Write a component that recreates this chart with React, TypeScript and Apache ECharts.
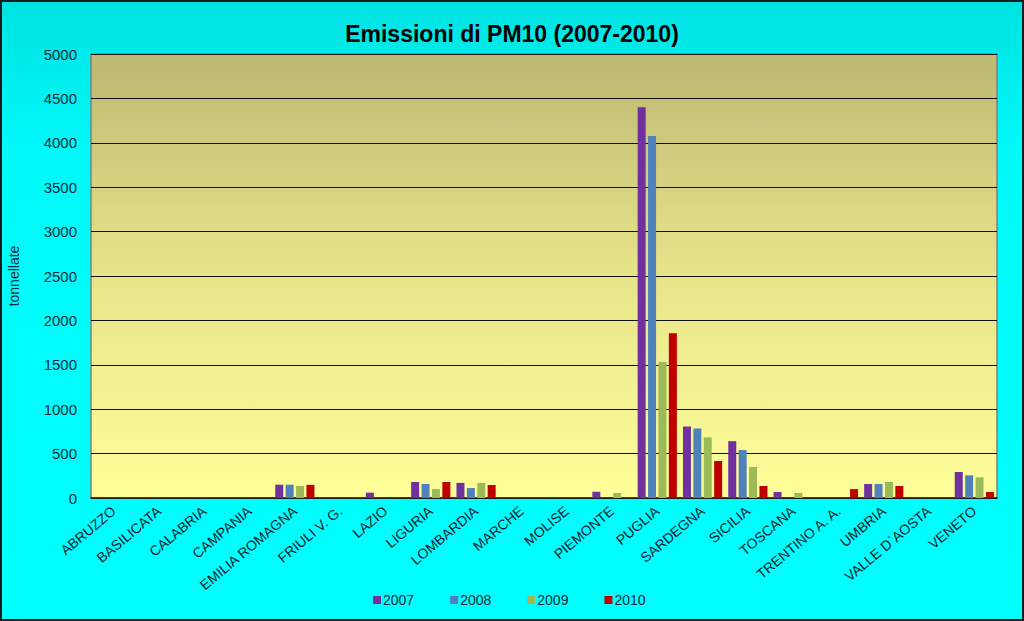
import React, { useEffect, useRef } from "react";
import * as echarts from "echarts";

const categories = [
  "ABRUZZO", "BASILICATA", "CALABRIA", "CAMPANIA", "EMILIA ROMAGNA", "FRIULI V. G.",
  "LAZIO", "LIGURIA", "LOMBARDIA", "MARCHE", "MOLISE", "PIEMONTE", "PUGLIA",
  "SARDEGNA", "SICILIA", "TOSCANA", "TRENTINO A. A.", "UMBRIA", "VALLE D`AOSTA", "VENETO",
];
const years = ["2007", "2008", "2009", "2010"];
const v2007 = [0, 0, 0, 0, 150, 0, 60, 180, 170, 0, 0, 70, 4400, 805, 640, 68, 0, 158, 0, 293];
const v2008 = [0, 0, 0, 0, 150, 0, 0, 158, 112, 0, 0, 0, 4077, 783, 540, 0, 0, 158, 0, 255];
const v2009 = [0, 0, 0, 0, 135, 0, 0, 100, 170, 0, 0, 56, 1532, 683, 349, 56, 0, 180, 0, 233];
const v2010 = [0, 0, 0, 0, 148, 0, 0, 180, 146, 0, 0, 0, 1855, 417, 135, 0, 100, 135, 0, 68];
const colors = ["#7030A0", "#4F81BD", "#9BBB59", "#C00000"];

const FONT = "'Liberation Sans Narrow', 'Liberation Sans', Arial, sans-serif";

export default function App() {
  const ref = useRef<HTMLDivElement>(null);
  useEffect(() => {
    if (!ref.current) return;
    const chart = echarts.init(ref.current, undefined, { renderer: "svg" });
    const seriesData = [v2007, v2008, v2009, v2010];
    chart.setOption({
      animation: false,
      backgroundColor: new echarts.graphic.LinearGradient(0, 0, 0, 1, [
        { offset: 0, color: "#00E2E2" },
        { offset: 0.25, color: "#00FAFA" },
        { offset: 1, color: "#00FFFF" },
      ]),
      title: {
        text: "Emissioni di PM10 (2007-2010)",
        left: "center",
        top: 17,
        textStyle: { fontFamily: FONT, fontSize: 23, fontWeight: "bold", color: "#000000" },
      },
      graphic: [
        {
          type: "rect",
          shape: { x: 1, y: 1, width: 1022, height: 619 },
          style: { fill: "none", stroke: "#0b1a1a", lineWidth: 2 },
          silent: true,
        },
      ],
      legend: {
        top: 588,
        left: 368,
        itemWidth: 8,
        itemHeight: 8,
        itemGap: 36,
        icon: "rect",
        textStyle: { fontFamily: FONT, fontSize: 14, color: "#10283a", padding: [0, 0, 0, -3] },
        data: years,
      },
      grid: {
        left: 91,
        right: 27,
        top: 54,
        bottom: 123,
        outerBoundsMode: "none",
        containLabel: false,
        show: true,
        borderColor: "#808080",
        borderWidth: 1.5,
        backgroundColor: new echarts.graphic.LinearGradient(0, 0, 0, 1, [
          { offset: 0, color: "#BDB873" },
          { offset: 0.5, color: "#E8E48A" },
          { offset: 1, color: "#FFFF99" },
        ]),
      },
      xAxis: {
        type: "category",
        data: categories,
        axisLine: { show: true, lineStyle: { color: "#222222", width: 1.5 } },
        axisTick: { show: false },
        axisLabel: {
          rotate: 40,
          interval: 0,
          fontFamily: "'Liberation Sans', Arial, sans-serif",
          fontSize: 14,
          color: "#0a1e2e",
          margin: 11,
        },
      },
      yAxis: {
        type: "value",
        min: 0,
        max: 5000,
        interval: 500,
        name: "tonnellate",
        nameLocation: "middle",
        nameGap: 70,
        nameTextStyle: { fontFamily: "'Liberation Sans', Arial, sans-serif", fontSize: 14, color: "#10283a" },
        axisLine: { show: false },
        axisTick: { show: false },
        axisLabel: {
          fontFamily: FONT,
          fontSize: 15,
          color: "#10283a",
          margin: 14,
          formatter: (v: number) => String(v),
        },
        splitLine: { lineStyle: { color: "#111111", width: 1 } },
      },
      series: years.map((y, i) => ({
        name: y,
        type: "bar",
        data: seriesData[i],
        barWidth: 8,
        barGap: "30%",
        itemStyle: { color: colors[i] },
      })),
    });
    return () => chart.dispose();
  }, []);
  return (
    <div
      ref={ref}
      style={{ position: "fixed", left: 0, top: 0, width: 1024, height: 621 }}
    />
  );
}
